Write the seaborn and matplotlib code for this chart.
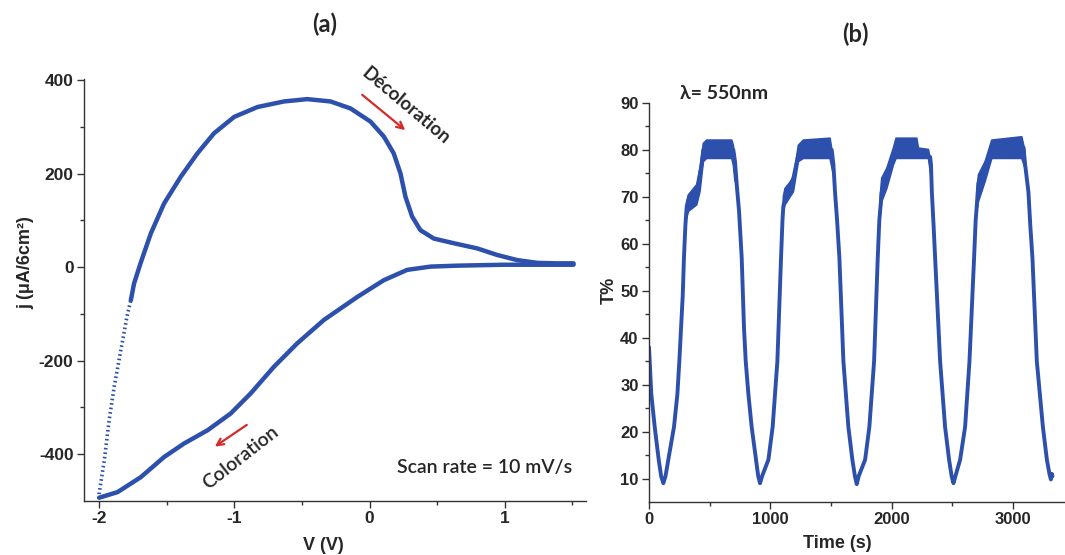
import numpy as np
import pandas as pd
import seaborn as sns
import matplotlib.pyplot as plt

sns.set_theme(style="ticks")
plt.rcParams['font.family'] = ['Liberation Sans', 'DejaVu Sans']

# cyclic voltammogram (a)
# steep start of the anodic sweep, sparse points -> dotted
cv_dot_v = [-2.00, -1.998, -1.96, -1.924, -1.887, -1.838, -1.788, -1.764]
cv_dot_j = [-495, -484, -413, -327, -256, -178, -99, -71]
# anodic sweep (upper branch)
cv_up_v = [-1.764, -1.74, -1.69, -1.616, -1.518, -1.395, -1.272, -1.149,
           -1.0, -0.829, -0.632, -0.46, -0.288, -0.14, 0.007, 0.106, 0.179, 0.229,
           0.266, 0.315, 0.376, 0.475, 0.622, 0.795, 0.942, 1.09, 1.24, 1.38, 1.508]
cv_up_j = [-71, -35, 10, 72, 136, 193, 243, 286,
           321, 342, 354, 359, 354, 339, 311, 279, 243, 200,
           150, 108, 79, 61, 51, 40, 26, 15, 9, 8, 8]
# cathodic sweep (lower branch)
cv_down_v = [1.508, 1.30, 0.99, 0.647, 0.45, 0.278, 0.106, -0.091, -0.337, -0.534,
             -0.706, -0.878, -1.026, -1.198, -1.37, -1.518, -1.69, -1.862, -1.998]
cv_down_j = [5, 5, 5, 3, 1, -6, -28, -64, -113, -163,
             -213, -270, -313, -349, -377, -406, -449, -481, -493]

# transmittance cycling at 550 nm (b)
time_s = [0, 19, 47, 80, 100, 118, 136, 159, 206, 234, 250, 264, 278, 288, 300, 311,
          330, 370, 406, 434, 448, 570, 695, 709, 723, 742, 764, 783, 797, 819, 846,
          882, 900, 915, 932,
          984, 1019, 1058, 1088, 1100, 1107, 1135, 1190, 1231, 1245, 1380, 1506, 1520,
          1533, 1550, 1569, 1602, 1643, 1676, 1697, 1712, 1728,
          1781, 1816, 1855, 1885, 1898, 1918, 1960, 2001, 2028, 2120, 2207, 2260, 2317,
          2324, 2331, 2345, 2358, 2399, 2440, 2473, 2494, 2509, 2525,
          2564, 2605, 2641, 2679, 2692, 2701, 2715, 2770, 2825, 2950, 3086, 3100, 3127,
          3142, 3160, 3196, 3246, 3279, 3300, 3312, 3320, 3325]
trans = [38, 28, 21, 14, 10.5, 9, 10.5, 14, 21, 28, 35, 42, 49, 57, 64, 68,
         70, 71, 72.5, 77, 80, 80, 80, 77.5, 72.6, 67, 57, 42, 35, 28, 21,
         14, 10.5, 9, 10.5,
         14, 21, 35, 57, 65, 68, 71, 74, 79, 80, 80, 80, 76.8,
         71, 65, 57, 35, 21, 14, 10.5, 8.8, 10.5,
         14, 21, 35, 57, 65, 71, 74.7, 77.5, 80, 80.5, 80, 79.3, 78.5,
         76.8, 71, 64, 57, 35, 21, 14, 10.5, 9, 10.5,
         14, 21, 35, 57, 65, 68, 73, 76.8, 80, 80.5, 80.5, 76.8, 71,
         64, 57, 35, 21, 14, 11, 9.8, 11, 10.5]
# noise envelope of the bleached plateaus (nan separates the four cycles)
nan = float('nan')
env_t = [311, 324, 393, 420, 448, 475, 682, 695, 709, nan,
         1107, 1121, 1190, 1231, 1272, 1492, 1514, nan,
         1905, 1918, 1960, 2014, 2036, 2207, 2220, 2303, 2322, nan,
         2701, 2715, 2770, 2825, 3072, 3100]
env_lo = [65.5, 66.9, 68.3, 71.1, 77.5, 78.2, 78.2, 76.8, 73.3, nan,
          67.0, 68.3, 71.1, 77.5, 78.2, 78.2, 75.4, nan,
          66.0, 69.0, 71.8, 76.8, 78.2, 78.2, 78.2, 78.2, 74.7, nan,
          67.0, 69.0, 73.3, 78.2, 78.2, 76.1]
env_hi = [68.5, 70.4, 72.6, 76.1, 81.4, 82.1, 82.1, 81.0, 77.5, nan,
          70.0, 71.8, 74.0, 81.0, 82.1, 82.5, 79.0, nan,
          70.0, 74.0, 76.1, 80.4, 82.5, 82.5, 80.4, 80.1, 77.5, nan,
          71.0, 74.7, 77.5, 82.1, 82.8, 79.6]

blue = '#2C50AC'
red = '#D42A2A'
note_font = ['Lato', 'DejaVu Sans']

fig = plt.figure(figsize=(10.65, 5.55), dpi=100)
ax_a = fig.add_axes([84 / 1065, 54 / 555, 502 / 1065, 422 / 555])
ax_b = fig.add_axes([649 / 1065, 53 / 555, 415 / 1065, 399 / 555])

# panel (a)
up = pd.DataFrame({'V': cv_up_v, 'j': cv_up_j})
down = pd.DataFrame({'V': cv_down_v, 'j': cv_down_j})
for branch in (up, down):
    sns.lineplot(data=branch, x='V', y='j', sort=False, estimator=None, color=blue,
                 lw=3.2, ax=ax_a)
for line in ax_a.lines:
    line.set_solid_joinstyle('round')
    line.set_solid_capstyle('round')
ax_a.plot(cv_dot_v, cv_dot_j, color=blue, lw=2.6, ls=(0, (0.45, 0.8)),
          dash_capstyle='butt')
ax_a.set_xlim(-2.11, 1.60)
ax_a.set_ylim(-500, 402)
ax_a.set_xticks([-2, -1, 0, 1])
ax_a.set_xticks([-1.5, -0.5, 0.5, 1.5], minor=True)
ax_a.set_yticks([-400, -200, 0, 200, 400])
ax_a.set_yticks([-300, -100, 100, 300], minor=True)
ax_a.set_xticklabels(['-2', '-1', '0', '1'])
ax_a.set_yticklabels(['-400', '-200', '0', '200', '400'])
ax_a.set_xlabel('V (V)', fontsize=13, fontweight='bold')
ax_a.set_ylabel('j (\u03bcA/6cm\u00b2)', fontsize=13, fontweight='bold')
ax_a.xaxis.set_label_coords((323 - 84) / 502, -(537 - 501) / 422)
ax_a.yaxis.set_label_coords((34 - 84) / 502, (501 - 263) / 422)

ax_a.annotate('', xy=(0.28, 289), xytext=(-0.07, 372),
              arrowprops=dict(arrowstyle='->', color=red, lw=1.6))
ax_a.text(0.27, 344, 'D\u00e9coloration', rotation=-40, ha='center', va='center',
          fontsize=13.5, fontweight='bold', family=note_font)
ax_a.annotate('', xy=(-1.16, -387), xytext=(-0.89, -334),
              arrowprops=dict(arrowstyle='->', color=red, lw=1.6))
ax_a.text(-0.95, -408, 'Coloration', rotation=38, ha='center', va='center',
          fontsize=14, fontweight='semibold', family=note_font)
ax_a.text(1.50, -428, 'Scan rate = 10 mV/s', ha='right', va='center',
          fontsize=14, fontweight='semibold', family=note_font)

# panel (b)
ax_b.fill_between(env_t, env_lo, env_hi, color=blue, lw=1.2, edgecolor=blue)
trace = pd.DataFrame({'t': time_s, 'T': trans})
sns.lineplot(data=trace, x='t', y='T', estimator=None, color=blue, lw=2.8, ax=ax_b)
ax_b.lines[-1].set_solid_joinstyle('round')
ax_b.set_xlim(0, 3420)
ax_b.set_ylim(5, 90)
ax_b.set_xticks([0, 1000, 2000, 3000])
ax_b.set_xticks([500, 1500, 2500], minor=True)
ax_b.set_yticks(range(10, 91, 10))
ax_b.set_yticks(range(15, 90, 10), minor=True)
ax_b.set_xlabel('Time (s)', fontsize=13, fontweight='bold')
ax_b.set_ylabel('T%', fontsize=13, fontweight='bold')
ax_b.xaxis.set_label_coords((837 - 649) / 415, -(535 - 502) / 399)
ax_b.yaxis.set_label_coords((618 - 649) / 415, (502 - 290) / 399)
ax_b.text(256, 92, '\u03bb= 550nm', ha='left', va='center', fontsize=14,
          fontweight='bold', family=note_font, clip_on=False)

for ax, size in ((ax_a, 12.5), (ax_b, 12)):
    sns.despine(ax=ax)
    for side in ('left', 'bottom'):
        ax.spines[side].set_color('#333333')
        ax.spines[side].set_linewidth(1.0)
    ax.tick_params(which='major', direction='out', length=5, width=1,
                   color='#333333', labelsize=size, pad=2.5)
    ax.tick_params(which='minor', direction='out', length=3, width=1,
                   color='#333333')
    for lab in ax.get_xticklabels() + ax.get_yticklabels():
        lab.set_fontweight('bold')

fig.text(325 / 1065, 1 - 24 / 555, '(a)', ha='center', va='center', fontsize=17,
         fontweight='bold', family=note_font)
fig.text(855 / 1065, 1 - 34 / 555, '(b)', ha='center', va='center', fontsize=17,
         fontweight='bold', family=note_font)

fig.savefig('out.png', dpi=100)
